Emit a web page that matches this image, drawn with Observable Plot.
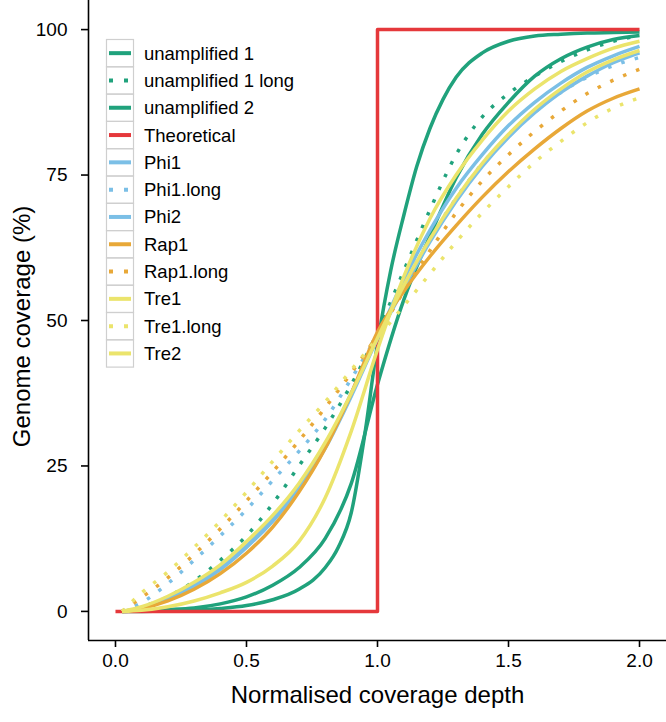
<!DOCTYPE html>
<html>
<head>
<meta charset="utf-8">
<script src="https://cdn.jsdelivr.net/npm/d3@7"></script>
<script src="https://cdn.jsdelivr.net/npm/@observablehq/plot@0.6"></script>
<style>
html,body{margin:0;padding:0;background:#fff;}
#wrap{position:relative;width:666px;height:722px;font-family:"Liberation Sans",Arial,Helvetica,sans-serif;}
#legend{position:absolute;left:0;top:0;pointer-events:none;}
</style>
</head>
<body>
<div id="wrap"></div>
<script>
// ---- data ----
const xDepth = [0.025,0.1,0.2,0.3,0.4,0.5,0.6,0.7,0.8,0.9,1.0,1.1,1.2,1.3,1.4,1.5,1.6,1.7,1.8,1.9,2.0];
const xUnamp1 = [0.025,0.1,0.2,0.3,0.4,0.5,0.6,0.7,0.8,0.85,0.9,0.95,1.0,1.05,1.1,1.15,1.2,1.25,1.3,1.4,1.5,1.6,1.7,1.8,1.9,2.0];
const yUnamp1 = [0,0,0.1,0.2,0.5,1.0,2.0,3.8,7.5,11,17,30,46,58.5,68,76.5,83,88,91.8,96,98,98.9,99.2,99.4,99.5,99.6];
const yUnamp1Long = [0,0.8,2.5,5.2,8.8,13,18.5,25,31.5,39,48,58.5,69,78.5,85,89,92,94.5,96.5,98,99];
const yUnamp2 = [0,0.1,0.3,0.6,1.3,2.5,4.5,7.5,12.5,22,39,53.5,64.5,74.5,82,87.5,92,95,97,98.3,99];
const xTheoretical = [0,1,1,2];
const yTheoretical = [0,0,100,100];
const yPhi1 = [0,0.6,2.1,4.3,7.2,11,15.5,21,28,37,47,57,65.5,72.7,78.5,83.5,87.5,90.8,93.5,95.5,97.1];
const yPhi1Long = [0,1.5,4.8,8.8,13,17.5,22.5,27.5,33,40,47.5,56,64,71,77,81.8,85.8,89.2,91.8,93.8,95.2];
const yPhi2 = [0,0.6,2.2,4.5,7.5,11.3,15.8,21.5,28.5,37.5,47,55.5,63.5,70.5,76.5,81.5,85.7,89.2,92,94.3,96];
const yRap1 = [0,0.5,1.8,3.8,6.5,10,14.5,20.5,28,37.5,48,55,61,66.3,71.2,75.6,79.5,83,86,88.2,89.8];
const yRap1Long = [0,2.4,5.8,9.8,14.2,19,24,29.3,35,41,47.5,55,62,68.5,74,78.5,82.5,86,89,91.3,93.2];
const yTre1 = [0,0.2,0.8,1.8,3.2,5,7.8,12,19.5,31,45,57.5,67.5,75,81,86,89.8,92.8,95,96.8,98];
const yTre1Long = [0,3.2,6.8,11,15.5,20.5,25.8,31,36,41.5,47,52.5,58,63.5,68.5,73,77.2,80.8,84,86.5,88.3];
const yTre2 = [0,0.8,2.6,5,8,12,16.5,22,29,37.5,47,56,64,71,77,82,86.3,89.8,92.7,94.8,96.4];

const seriesNames = ["unamplified 1","unamplified 1 long","unamplified 2","Theoretical","Phi1","Phi1.long","Phi2","Rap1","Rap1.long","Tre1","Tre1.long","Tre2"];
const xTicks = [0,0.5,1,1.5,2];
const yTicks = [0,25,50,75,100];

// ---- styles ----
const GREEN="#20a27c", RED="#e5383b", BLUE="#7bbfe6", ORANGE="#e8a838", YELLOW="#ebe46c";
const seriesDefs = [
  {x:xUnamp1, y:yUnamp1, color:GREEN, dotted:false},
  {x:xDepth, y:yUnamp1Long, color:GREEN, dotted:true},
  {x:xDepth, y:yUnamp2, color:GREEN, dotted:false},
  {x:xTheoretical, y:yTheoretical, color:RED, dotted:false, linear:true},
  {x:xDepth, y:yPhi1, color:BLUE, dotted:false},
  {x:xDepth, y:yPhi1Long, color:BLUE, dotted:true},
  {x:xDepth, y:yPhi2, color:BLUE, dotted:false},
  {x:xDepth, y:yRap1, color:ORANGE, dotted:false},
  {x:xDepth, y:yRap1Long, color:ORANGE, dotted:true},
  {x:xDepth, y:yTre1, color:YELLOW, dotted:false},
  {x:xDepth, y:yTre1Long, color:YELLOW, dotted:true},
  {x:xDepth, y:yTre2, color:YELLOW, dotted:false}
];
const LW = 3.5;
const DOT = "3.5,10.5";

const xDomain = [-0.103, 2.103];
const yDomain = [-5, 105];

const lineMarks = seriesDefs.map((s, k) => {
  const rows = s.x.map((x, i) => ({series: seriesNames[k], x, y: s.y[i]}));
  return Plot.line(rows, {
    x: "x", y: "y",
    stroke: s.color, strokeWidth: LW,
    strokeDasharray: s.dotted ? DOT : null,
    strokeLinecap: "butt",
    strokeLinejoin: "round",
    curve: s.linear ? "linear" : "monotone-x"
  });
});

const chart = Plot.plot({
  width: 666,
  height: 722,
  marginLeft: 88,
  marginRight: 0,
  marginTop: 0,
  marginBottom: 82,
  style: {fontFamily: '"Liberation Sans", Arial, Helvetica, sans-serif', color: "#000", background: "#fff"},
  x: {domain: xDomain, ticks: xTicks},
  y: {domain: yDomain, ticks: yTicks},
  marks: [
    ...lineMarks,
    Plot.ruleX([xDomain[0]], {stroke: "#000", strokeWidth: 1.6}),
    Plot.ruleY([yDomain[0]], {stroke: "#000", strokeWidth: 1.6}),
    Plot.axisY(yTicks, {tickSize: 7, tickPadding: 14, fontSize: 19, label: null, strokeWidth: 1.6, tickFormat: d => String(d)}),
    Plot.axisX(xTicks, {tickSize: 7, tickPadding: 6, fontSize: 19, label: null, strokeWidth: 1.6, tickFormat: d3.format(".1f")}),
    Plot.text(["Normalised coverage depth"], {frameAnchor: "bottom", dy: 62, fontSize: 24, lineAnchor: "bottom", textAnchor: "middle", fill: "#000"}),
    Plot.text(["Genome coverage (%)"], {frameAnchor: "left", dx: -66, dy: 6, rotate: -90, fontSize: 24, lineAnchor: "middle", textAnchor: "middle", fill: "#000"})
  ]
});

const wrap = document.getElementById("wrap");
wrap.appendChild(chart);

// ---- legend ----
const lg = d3.select(wrap).append("svg").attr("id","legend").attr("width",666).attr("height",722);
const top0 = 39.5, rowH = 27.3, keyX = 106.5, keyW = 27;
seriesNames.forEach((name, i) => {
  const s = seriesDefs[i];
  const y0 = top0 + i*rowH;
  const cy = y0 + rowH/2;
  lg.append("rect").attr("x",keyX).attr("y",y0).attr("width",keyW).attr("height",rowH)
    .attr("fill","none").attr("stroke","#cfcfcf").attr("stroke-width",1.2);
  lg.append("line").attr("x1",109).attr("x2",131).attr("y1",cy).attr("y2",cy)
    .attr("stroke",s.color).attr("stroke-width",4)
    .attr("stroke-dasharray", s.dotted ? "4,11" : null);
  lg.append("text").attr("x",144).attr("y",cy).attr("dy","0.35em")
    .attr("font-size",18.5).attr("font-family",'"Liberation Sans", Arial, sans-serif')
    .attr("fill","#000").text(name);
});
</script>
</body>
</html>
